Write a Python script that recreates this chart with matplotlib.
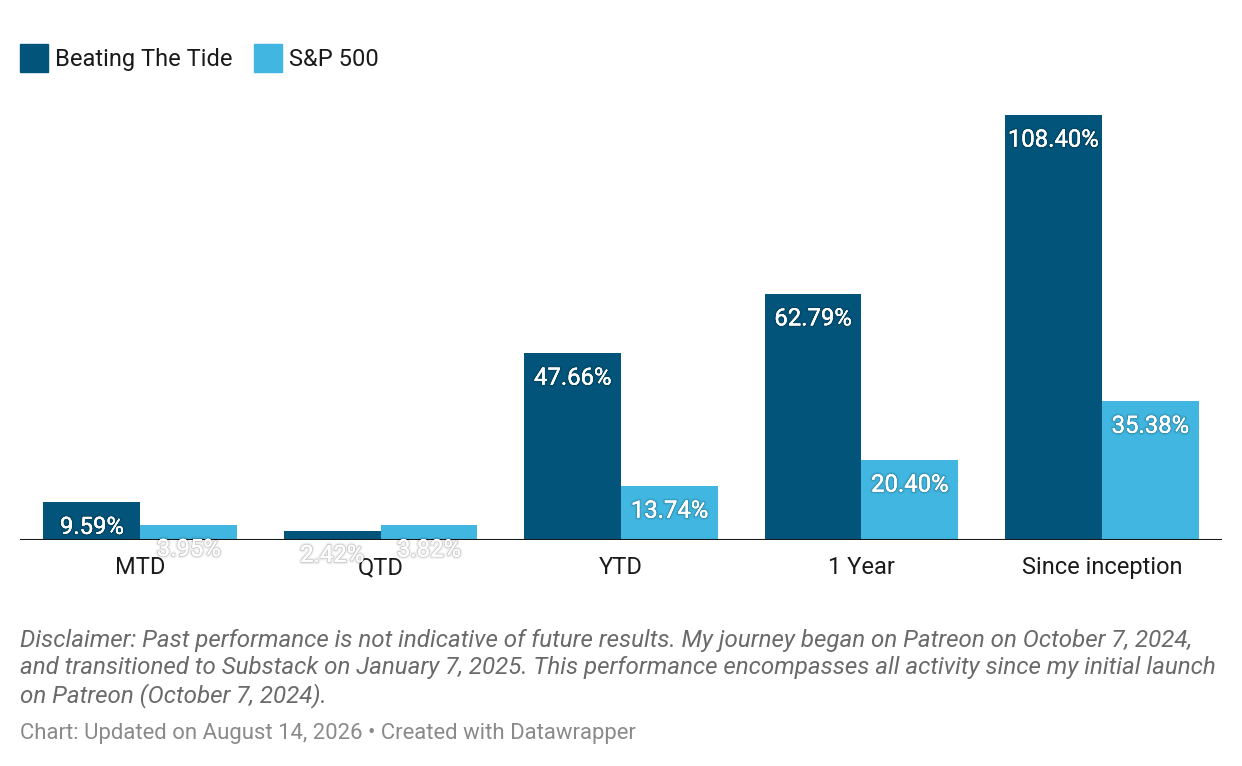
import matplotlib
matplotlib.use("Agg")
import matplotlib.pyplot as plt
import matplotlib.patheffects as pe
from matplotlib.patches import Rectangle
import numpy as np

categories = ["MTD", "QTD", "YTD", "1 Year", "Since inception"]
series_names = ["Beating The Tide", "S&P 500"]
beating_the_tide = [9.59, 2.42, 47.66, 62.79, 108.40]
sp500 = [3.95, 3.82, 13.74, 20.40, 35.38]
colors = ["#02547a", "#40b6e0"]

disclaimer = ("Disclaimer: Past performance is not indicative of future results. My journey began on Patreon on October 7, 2024,\n"
              "and transitioned to Substack on January 7, 2025. This performance encompasses all activity since my initial launch\n"
              "on Patreon (October 7, 2024).")
footer = "Chart: Updated on August 14, 2026 \u2022 Created with Datawrapper"

plt.rcParams['font.family'] = ['Roboto', 'DejaVu Sans']

W, H = 1242, 766
fig = plt.figure(figsize=(W / 100, H / 100), dpi=100)
ax = fig.add_axes([20 / W, (H - 540) / H, 1202 / W, 440 / H])

x = np.arange(len(categories))
bw = 0.403
series = [beating_the_tide, sp500]
halo = [pe.withStroke(linewidth=3.5, foreground=(0, 0, 0, 0.06)),
        pe.withStroke(linewidth=1.5, foreground=(0, 0, 0, 0.14)),
        pe.Normal()]
for i, (vals, col) in enumerate(zip(series, colors)):
    xs = x + (i - 0.5) * bw
    ax.bar(xs, vals, width=bw, color=col, linewidth=0, zorder=2)
    for xx, v in zip(xs, vals):
        ax.annotate(f"{v:.2f}%", xy=(xx, v), xytext=(0, -18), textcoords="offset points",
                    ha="center", va="center", color="white", fontsize=17.2,
                    path_effects=halo, zorder=5)

ax.set_xlim(-0.5, len(categories) - 0.5)
ax.set_ylim(0, 440 / 3.92)
ax.axhline(0, color="#1a1a1a", linewidth=1.5, zorder=3)
for s in ax.spines.values():
    s.set_visible(False)
ax.set_yticks([])
ax.set_xticks(x)
ax.set_xticklabels(categories, fontsize=17, color="#1a1a1a")
ax.tick_params(axis="x", length=0, pad=11.5)

# legend
lx = [20, 254]
for name, col, px in zip(series_names, colors, lx):
    fig.patches.append(Rectangle((px / W, (H - 72) / H), 28 / W, 28 / H,
                                 transform=fig.transFigure, color=col))
    fig.text((px + 35) / W, (H - 66) / H, name, fontsize=17, color="#1a1a1a",
             va="baseline", ha="left")

fig.text(20 / W, (H - 629) / H, disclaimer, fontsize=17.4, style="italic", color="#6a6a6a",
         va="top", ha="left", linespacing=1.22)
fig.text(20 / W, (H - 733) / H, footer, fontsize=15.9, color="#8a8a8a", va="center", ha="left")

fig.savefig("out.png", dpi=100, facecolor="white")
